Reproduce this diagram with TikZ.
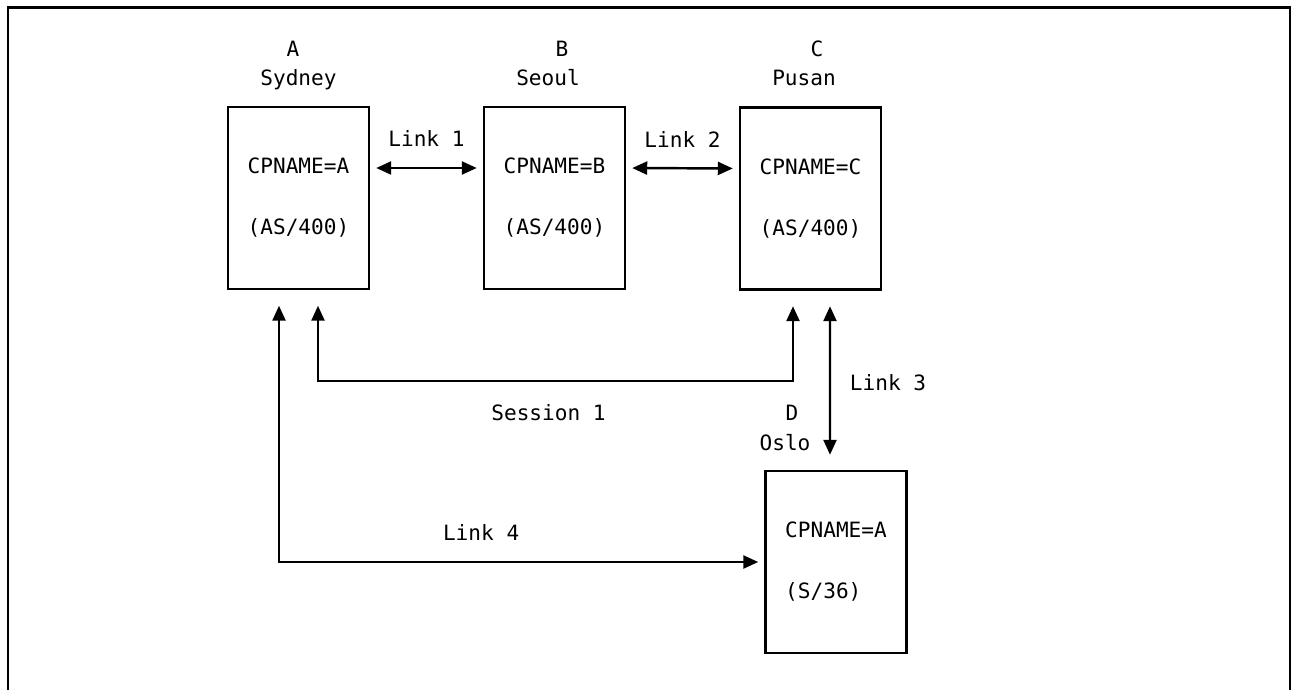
\documentclass[tikz,border=0pt]{standalone}
\usepackage{fontspec}
\setmainfont{DejaVu Sans Mono}
\usetikzlibrary{arrows.meta}

\begin{document}
\begin{tikzpicture}[line width=1.4pt, every node/.style={align=center, font=\fontsize{12pt}{14pt}\selectfont}]
\tikzset{
  sysbox/.style={draw, rectangle, inner sep=0pt, minimum width=2.82cm, minimum height=3.64cm},
  lnk/.style={{Triangle[length=0.3cm,width=0.26cm]}-{Triangle[length=0.3cm,width=0.26cm]}},
  lbl/.style={anchor=base, inner sep=0pt}
}
\useasboundingbox (0,0) rectangle (25.82,-13.8);

% Frame (open at the bottom)
\draw (0.16,-13.8) -- (0.16,-0.15) -- (25.8,-0.15) -- (25.8,-13.8);

% Systems
\node[sysbox] (sysA) at (5.97,-3.96) {CPNAME=A\\[0.73cm](AS/400)};
\node[sysbox] (sysB) at (11.09,-3.96) {CPNAME=B\\[0.73cm](AS/400)};
\node[sysbox] (sysC) at (16.21,-3.97) {CPNAME=C\\[0.73cm](AS/400)};
\node[sysbox, align=left] (sysD) at (16.72,-11.24) {CPNAME=A\\[0.73cm](S/36)};

% Names above the systems
\node[lbl] (idA) at (5.86,-1.14) {A};
\node[lbl] (cityA) at (5.97,-1.72) {Sydney};
\node[lbl] (idB) at (11.24,-1.14) {B};
\node[lbl] (cityB) at (10.96,-1.72) {Seoul};
\node[lbl] (idC) at (16.34,-1.14) {C};
\node[lbl] (cityC) at (16.08,-1.72) {Pusan};
\node[lbl] (idD) at (15.84,-8.4) {D};
\node[lbl] (cityD) at (15.7,-9.0) {Oslo};

% Links
\draw[lnk, shorten <=0.12cm, shorten >=0.12cm] ([yshift=0.6cm]sysA.east) -- node[lbl, midway, yshift=0.42cm] {Link 1} ([yshift=0.6cm]sysB.west);
\draw[lnk, shorten <=0.12cm, shorten >=0.12cm] ([yshift=0.6cm]sysB.east) -- node[lbl, midway, yshift=0.42cm] {Link 2} ([yshift=0.6cm]sysC.west);
\draw[lnk] ([xshift=0.39cm, yshift=-0.31cm]sysC.south) -- node[lbl, midway, xshift=1.16cm, yshift=-0.19cm] {Link 3} ([xshift=-0.12cm, yshift=0.3cm]sysD.north);
\draw[lnk, shorten >=0.12cm] ([xshift=-0.39cm, yshift=-0.31cm]sysA.south) |- node[lbl, pos=0.75, xshift=-0.81cm, yshift=0.44cm] {Link 4} (sysD.west);

% Session
\draw[lnk] ([xshift=0.39cm, yshift=-0.31cm]sysA.south) -- ++(0,-1.5) -| node[lbl, pos=0.25, xshift=-0.14cm, yshift=-0.8cm] {Session 1} ([xshift=-0.35cm, yshift=-0.31cm]sysC.south);

\end{tikzpicture}
\end{document}
